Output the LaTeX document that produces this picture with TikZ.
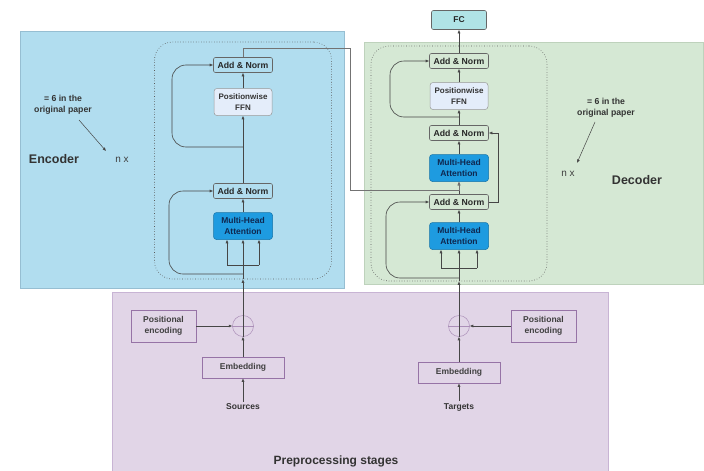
\documentclass[tikz,border=0pt]{standalone}
\usepackage{fontspec}
\setmainfont{Liberation Sans}
\usetikzlibrary{arrows.meta}

\definecolor{encbg}{RGB}{177,221,239}
\definecolor{encedge}{RGB}{150,190,210}
\definecolor{decbg}{RGB}{213,232,212}
\definecolor{decedge}{RGB}{190,210,188}
\definecolor{prebg}{RGB}{225,213,231}
\definecolor{preedge}{RGB}{200,180,212}
\definecolor{pstroke}{RGB}{150,115,166}
\definecolor{mhafill}{RGB}{30,155,224}
\definecolor{mhatext}{RGB}{15,40,80}
\definecolor{ffnfill}{RGB}{228,237,250}
\definecolor{fcfill}{RGB}{176,227,230}
\definecolor{ink}{RGB}{70,70,70}

\tikzset{
  x=1pt, y=-1pt,
  tip/.tip={Latex[length=3.5pt,width=3pt]},
  wire/.style={draw=ink, line width=0.6pt},
  arw/.style={wire, -tip},
  loopwire/.style={wire, -tip, rounded corners=14pt},
  addnorm/.style={draw=black!60, line width=0.6pt, rounded corners=2pt,
    minimum width=59pt, minimum height=15pt, inner sep=0pt,
    font=\fontsize{8.7}{9.5}\selectfont\bfseries, text=black!85},
  mha/.style={fill=mhafill, draw=mhafill!75!black, line width=0.5pt, rounded corners=3pt,
    minimum width=59pt, minimum height=27pt, inner sep=0pt, align=center,
    font=\fontsize{8.5}{10.5}\selectfont\bfseries, text=mhatext},
  ffn/.style={fill=ffnfill, draw=black!40, line width=0.5pt, rounded corners=3pt,
    minimum width=58pt, minimum height=27pt, inner sep=0pt, align=center,
    font=\fontsize{8}{10.5}\selectfont\bfseries, text=black!80},
  stack/.style={draw=black!65, dotted, line width=0.6pt, rounded corners=18pt, inner sep=0pt},
  pbox/.style={draw=pstroke, line width=0.6pt, fill=prebg, inner sep=0pt, align=center,
    font=\fontsize{8.5}{10.5}\selectfont\bfseries, text=black!75},
  adder/.style={circle, draw=pstroke!80, line width=0.5pt, minimum size=21pt, inner sep=0pt},
  plain/.style={inner sep=0pt, align=center, text=black!80},
  note/.style={plain, font=\fontsize{8.7}{11}\selectfont\bfseries},
  title/.style={plain, font=\fontsize{12.5}{14}\selectfont\bfseries},
  times/.style={plain, font=\fontsize{10}{11}\selectfont, text=black!75},
}

\begin{document}
\begin{tikzpicture}
\useasboundingbox (0,0) rectangle (704,471);

% coloured regions
\fill[encbg, draw=encedge, line width=0.5pt] (20,31) rectangle (344,288);
\fill[decbg, draw=decedge, line width=0.5pt] (364,42) rectangle (703.5,284);
\fill[prebg, draw=preedge, line width=0.5pt] (112,292) rectangle (608,472);

% ---------------- encoder stack ----------------
\node[stack, minimum width=177pt, minimum height=237pt] (eStack) at (243,160.5) {};
\node[addnorm] (eAN2) at (243,65) {Add \& Norm};
\node[ffn] (eFFN) at (243,102) {Positionwise\\FFN};
\node[addnorm] (eAN1) at (243,191) {Add \& Norm};
\node[mha] (eMHA) at (243,226) {Multi-Head\\Attention};

\coordinate (eFk) at (243,265);
\coordinate (eFkL) at (227,265);
\coordinate (eFkR) at (259,265);

\draw[wire] (eStack.south) -- (eFk);
\draw[wire] (eFkL) -- (eFkR);
\draw[arw] (eFk) -- (eMHA.south);
\draw[arw] (eFkL) -- (eFkL |- eMHA.south);
\draw[arw] (eFkR) -- (eFkR |- eMHA.south);
\draw[loopwire] (243,274) -- (169,274) -- (169,191) -- (eAN1.west);
\draw[arw] (eMHA.north) -- (eAN1.south);
\draw[arw] (eAN1.north) -- (eFFN.south);
\draw[arw] (eFFN.north) -- (eAN2.south);
\draw[loopwire] (243,147) -- (172,147) -- (172,65) -- (eAN2.west);

\node[note] (eNote) at (63,104.5) {= 6 in the\\original paper};
\node[title] (eTitle) at (54,159.5) {Encoder};
\node[times] (eTimes) at (122,160) {n x};
\coordinate (eNoteTip) at (106,151);
\draw[wire, -tip, line width=0.5pt] (79,120) -- (eNoteTip);

% ---------------- decoder stack ----------------
\node[stack, minimum width=176pt, minimum height=235pt] (dStack) at (459,163.5) {};
\node[addnorm, fill=fcfill, minimum width=55pt, minimum height=19pt, font=\fontsize{8.5}{9.5}\selectfont\bfseries] (FC) at (459,20) {FC};
\node[addnorm] (dAN3) at (459,61) {Add \& Norm};
\node[ffn] (dFFN) at (459,96) {Positionwise\\FFN};
\node[addnorm] (dAN2) at (459,133) {Add \& Norm};
\node[mha] (dMHA2) at (459,168) {Multi-Head\\Attention};
\node[addnorm] (dAN1) at (459,202) {Add \& Norm};
\node[mha] (dMHA1) at (459,236) {Multi-Head\\Attention};

\coordinate (dFk) at (459,268);
\coordinate (dFkL) at (441,268);
\coordinate (dFkR) at (477,268);

\draw[wire] (dStack.south -| dFk) -- (dFk);
\draw[wire] (dFkL) -- (dFkR);
\draw[arw] (dFk) -- (dMHA1.south);
\draw[arw] (dFkL) -- (dFkL |- dMHA1.south);
\draw[arw] (dFkR) -- (dFkR |- dMHA1.south);
\draw[loopwire] (459,278) -- (386,278) -- (386,202) -- (dAN1.west);
\draw[arw] (dMHA1.north) -- (dAN1.south);
\draw[arw] (dAN1.north) -- (dMHA2.south);
\draw[arw] (dAN1.east) -- (498,202) -- (498,133) -- (dAN2.east);
\draw[arw] (dMHA2.north) -- (dAN2.south);
\draw[arw] (dAN2.north) -- (dFFN.south);
\draw[arw] (dFFN.north) -- (dAN3.south);
\draw[loopwire] (459,117) -- (390,117) -- (390,61) -- (dAN3.west);
\draw[arw] (dAN3.north) -- (FC.south);

% encoder output feeding the decoder's second attention block
\draw[arw, draw=black!55] (eAN2.north) -- (243,48) -- (350,48) -- (350,190) -- (459,190) -- (dMHA2.south);

\node[note] (dNote) at (606,107.5) {= 6 in the\\original paper};
\node[times] (dTimes) at (568,174) {n x};
\node[title] (dTitle) at (637,180) {Decoder};
\coordinate (dNoteTip) at (577,163);
\draw[wire, -tip, line width=0.5pt] (595,122) -- (dNoteTip);

% ---------------- preprocessing ----------------
\node[pbox, minimum width=65pt, minimum height=32pt] (ePE) at (163.5,326) {Positional\\encoding};
\node[adder] (eAdd) at (243,326) {};
\draw[pstroke!80, line width=0.5pt] (eAdd.west) -- (eAdd.east);
\node[pbox, minimum width=82pt, minimum height=21pt] (eEmb) at (243,367.5) {Embedding};
\node[plain, font=\fontsize{8.5}{10}\selectfont\bfseries] (eSrc) at (243,407) {Sources};

\node[pbox, minimum width=65pt, minimum height=32pt] (dPE) at (543.5,326) {Positional\\encoding};
\node[adder] (dAdd) at (459,326) {};
\draw[pstroke!80, line width=0.5pt] (dAdd.west) -- (dAdd.east);
\node[pbox, minimum width=82pt, minimum height=21pt] (dEmb) at (459,372.5) {Embedding};
\node[plain, font=\fontsize{8.5}{10}\selectfont\bfseries] (dTgt) at (459,407) {Targets};

\draw[arw] (eSrc.north) ++(0,-2) -- (eEmb.south);
\draw[arw] (eEmb.north) -- (eAdd.south);
\draw[arw] (ePE.east) -- (eAdd.west);
\draw[wire] (eAdd.south) -- (eAdd.north);
\draw[arw] (eAdd.north) -- (eStack.south);

\draw[arw] (dTgt.north) ++(0,-2) -- (dEmb.south);
\draw[arw] (dEmb.north) -- (dAdd.south);
\draw[arw] (dPE.west) -- (dAdd.east);
\draw[wire] (dAdd.south) -- (dAdd.north);
\draw[arw] (dAdd.north) -- (dStack.south -| dAdd);

\node[title, font=\fontsize{12}{14}\selectfont\bfseries] (pTitle) at (336,461) {Preprocessing stages};
\end{tikzpicture}
\end{document}
